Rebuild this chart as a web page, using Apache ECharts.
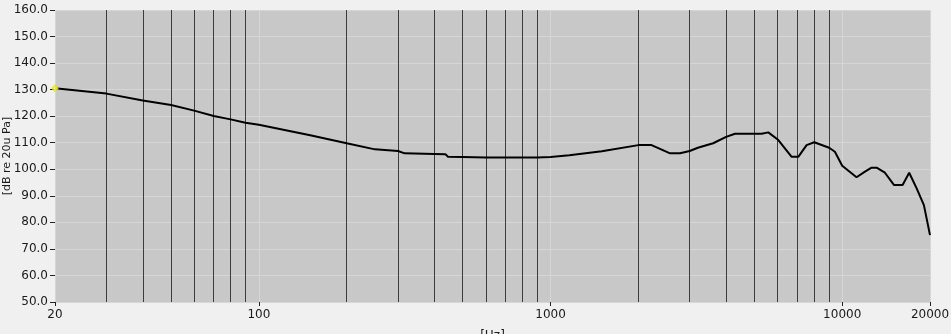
<!DOCTYPE html>
<html>
<head>
<meta charset="utf-8">
<script src="https://cdn.jsdelivr.net/npm/echarts@6/dist/echarts.min.js"></script>
<style>
html,body{margin:0;padding:0;background:#f0f0f0;}
#c{width:951px;height:334px;}
</style>
</head>
<body>
<div id="c"></div>
<script>
// Frequency response data (Hz, dB re 20uPa)
var freqs = [20, 30, 40, 50, 60, 70, 80, 90, 100, 150, 200, 250, 300, 316, 400, 436, 445, 500, 600, 700, 800, 900, 1000, 1160, 1500, 2000, 2220, 2570, 2780, 3000, 3200, 3610, 4000, 4290, 5290, 5580, 6040, 6710, 7070, 7550, 8020, 9020, 9440, 10000, 11200, 11970, 12610, 13120, 14010, 15040, 16110, 16970, 18000, 19060, 20000];
var levels = [130.5, 128.5, 125.9, 124.2, 122.1, 120.1, 118.8, 117.5, 116.8, 112.8, 109.8, 107.5, 106.9, 106.0, 105.8, 105.7, 104.7, 104.6, 104.4, 104.4, 104.4, 104.4, 104.6, 105.3, 106.8, 109.1, 109.1, 106.0, 106.0, 106.9, 108.1, 109.8, 112.2, 113.4, 113.4, 113.9, 111.0, 104.7, 104.7, 109.1, 110.2, 108.1, 106.6, 101.3, 97.0, 99.1, 100.6, 100.6, 98.7, 94.1, 94.1, 98.7, 92.8, 86.5, 75.2];
// Minor (dark) vertical grid frequencies
var minorGrid = [30, 40, 50, 60, 70, 80, 90, 200, 300, 400, 500, 600, 700, 800, 900, 2000, 3000, 4000, 5000, 6000, 7000, 8000, 9000];
var xTickLabels = [20, 100, 1000, 10000, 20000];

var chart = echarts.init(document.getElementById('c'), null, {renderer: 'canvas'});
var font = 'DejaVu Sans';
chart.setOption({
  backgroundColor: '#f0f0f0',
  animation: false,
  grid: {left: 55, right: 21, top: 10, bottom: 32, show: true, backgroundColor: '#c8c8c8', borderWidth: 0,
    outerBoundsMode: 'none', containLabel: false},
  xAxis: {
    type: 'log', logBase: 10, min: 20, max: 20000,
    name: '[Hz]', nameLocation: 'middle', nameGap: 28, nameMoveOverlap: false,
    nameTextStyle: {fontFamily: font, fontSize: 12, color: '#1a1a1a'},
    axisLine: {show: false},
    axisTick: {show: true, length: 4, lineStyle: {color: '#222'}},
    axisLabel: {
      fontFamily: font, fontSize: 12, color: '#1a1a1a', margin: 7,
      showMinLabel: true, showMaxLabel: true,
      formatter: function (v) {
        var r = Math.round(v);
        return xTickLabels.indexOf(r) >= 0 ? String(r) : '';
      }
    },
    splitLine: {show: true, lineStyle: {color: '#d6d6d6', width: 1}}
  },
  yAxis: {
    type: 'value', min: 50, max: 160, interval: 10,
    name: '[dB re 20u Pa]', nameLocation: 'middle', nameGap: 42, nameMoveOverlap: false,
    nameTextStyle: {fontFamily: font, fontSize: 11, color: '#1a1a1a'},
    axisLine: {show: false},
    axisTick: {show: true, length: 5, lineStyle: {color: '#222'}},
    axisLabel: {fontFamily: font, fontSize: 12, color: '#1a1a1a', margin: 7,
      formatter: function (v) { return v.toFixed(1); }},
    splitLine: {show: true, lineStyle: {color: '#d6d6d6', width: 1}}
  },
  series: [{
    type: 'line',
    data: freqs.map(function (f, i) { return [f, levels[i]]; }),
    showSymbol: false,
    lineStyle: {color: '#000', width: 2},
    z: 5,
    markLine: {
      silent: true, symbol: ['none', 'none'], label: {show: false},
      lineStyle: {color: '#3c3c3c', width: 1, type: 'solid'},
      data: minorGrid.map(function (f) { return {xAxis: f}; }),
      z: 2
    }
  }, {
    type: 'scatter',
    data: [[freqs[0], levels[0]]],
    symbol: 'emptyDiamond', symbolSize: 5,
    itemStyle: {color: '#e6e600', borderWidth: 1},
    z: 6
  }]
});
</script>
</body>
</html>
